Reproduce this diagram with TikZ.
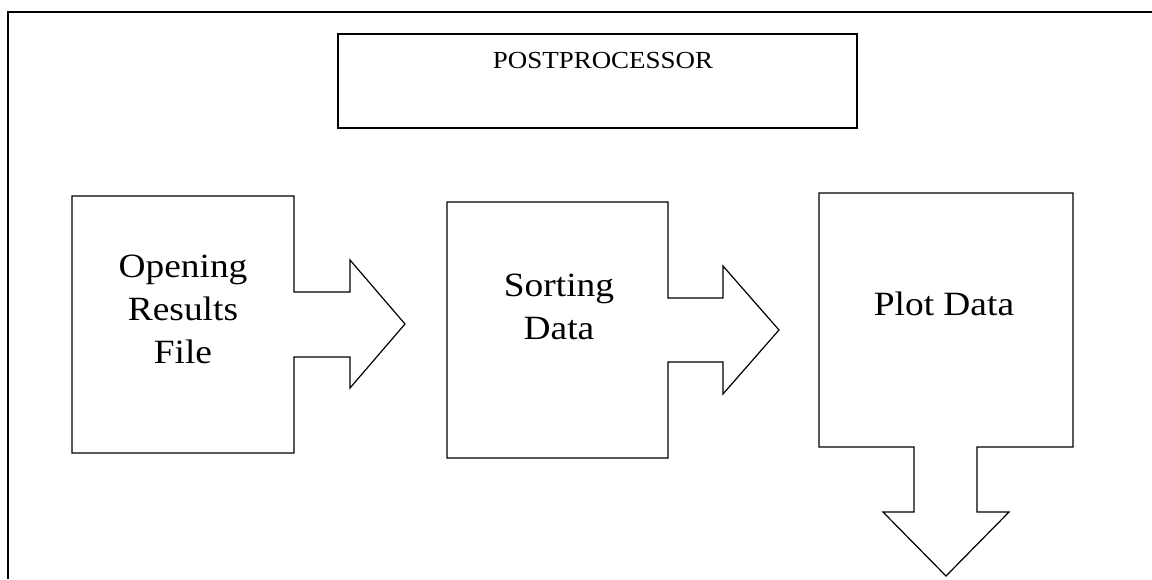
\documentclass[tikz,border=0pt]{standalone}
\usepackage{fontspec}
\setmainfont{Liberation Serif}[FakeStretch=1.1]
\usetikzlibrary{calc}

\tikzset{
	frame/.style={line width=1.8pt},
	block/.style={line width=1.2pt, line join=miter},
	steplabel/.style={align=center, inner sep=0pt, font=\fontsize{34}{43}\selectfont},
}

\begin{document}
\begin{tikzpicture}[x=1pt, y=-1pt]
	\useasboundingbox (0,0) rectangle (1152,579);

	%Frame
	\coordinate (corner) at (8,12);
	\draw[frame] (1152,12) -- (corner) -- (8,579);

	%Title
	\node[frame, draw, minimum width=519pt, minimum height=94pt, inner sep=0pt] (post) at (597.5,81) {};
	\node[anchor=base, inner sep=0pt, font=\fontsize{24.5}{28}\selectfont] (posttitle) at (603,68) {POSTPROCESSOR};

	%Opening results file
	\coordinate (open) at (72,196);
	\draw[block] (open) -- ++(222,0) -- ++(0,96) -- ++(56,0) -- ++(0,-32) -- ++(55,64) -- ++(-55,64) -- ++(0,-31) -- ++(-56,0) -- ++(0,96) -- ++(-222,0) -- cycle;
	\node[steplabel] (openlbl) at (183,309) {Opening\\Results\\File};

	%Sorting data
	\coordinate (sort) at (447,202);
	\draw[block] (sort) -- ++(221,0) -- ++(0,96) -- ++(55,0) -- ++(0,-32) -- ++(56,64) -- ++(-56,64) -- ++(0,-32) -- ++(-55,0) -- ++(0,96) -- ++(-221,0) -- cycle;
	\node[steplabel] (sortlbl) at (559,307) {Sorting\\Data};

	%Plot data
	\coordinate (plot) at (819,193);
	\draw[block] (plot) -- ++(254,0) -- ++(0,254) -- ++(-96,0) -- ++(0,65) -- ++(32,0) -- ++(-63,64) -- ++(-63,-64) -- ++(31,0) -- ++(0,-65) -- ++(-95,0) -- cycle;
	\node[steplabel] (plotlbl) at (944,303.5) {Plot Data};
\end{tikzpicture}
\end{document}
